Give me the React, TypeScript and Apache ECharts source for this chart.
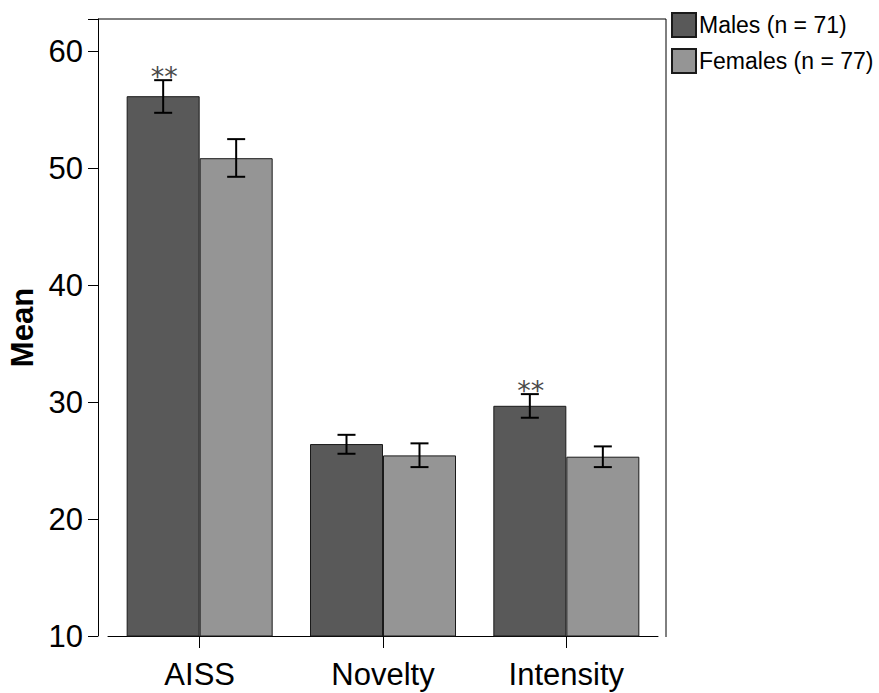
import React, { useEffect, useRef } from "react";
import * as echarts from "echarts";

// Mean scores by sex with ±error bars
const categories = ["AISS", "Novelty", "Intensity"];
const maleMean = [56.15, 26.41, 29.68];
const maleLow = [54.73, 25.58, 28.66];
const maleHigh = [57.52, 27.2, 30.68];
const femaleMean = [50.85, 25.44, 25.33];
const femaleLow = [49.26, 24.44, 24.44];
const femaleHigh = [52.48, 26.47, 26.21];
const maleMarks = ["**", "", "**"];
const femaleMarks = ["", "", ""];
const yTicks = [10, 20, 30, 40, 50, 60];

const MALE_NAME = "Males (n = 71)";
const FEMALE_NAME = "Females (n = 77)";
const BAR_W = 73;
const FONT = "'Liberation Sans', Arial, sans-serif";

function errorSeries(
  name: string,
  side: number,
  low: number[],
  high: number[],
  marks: string[]
) {
  return {
    type: "custom",
    name: name + " error",
    silent: true,
    z: 5,
    data: categories.map((_, i) => [i, low[i], high[i]]),
    renderItem: (params: any, api: any) => {
      const i = api.value(0);
      const lo = api.coord([i, api.value(1)]);
      const hi = api.coord([i, api.value(2)]);
      const x = lo[0] + (side * BAR_W) / 2;
      const cap = 9;
      const style = { stroke: "#000", lineWidth: 2 };
      const children: any[] = [
        { type: "line", shape: { x1: x, y1: hi[1], x2: x, y2: lo[1] }, style },
        { type: "line", shape: { x1: x - cap, y1: hi[1], x2: x + cap, y2: hi[1] }, style },
        { type: "line", shape: { x1: x - cap, y1: lo[1], x2: x + cap, y2: lo[1] }, style },
      ];
      const mark = marks[params.dataIndex];
      if (mark) {
        children.push({
          type: "text",
          x: x + 1,
          y: hi[1] + 10,
          style: {
            text: mark,
            fill: "#4a4a4a",
            font: "27px 'DejaVu Sans', sans-serif",
            align: "center",
            verticalAlign: "bottom",
          },
        });
      }
      return { type: "group", children };
    },
  };
}

export default function App() {
  const ref = useRef<HTMLDivElement>(null);

  useEffect(() => {
    if (!ref.current) return;
    const chart = echarts.init(ref.current, null, { renderer: "svg" });
    chart.setOption({
      animation: false,
      backgroundColor: "#fff",
      textStyle: { fontFamily: FONT },
      legend: {
        orient: "vertical",
        left: 671,
        top: 12,
        padding: 0,
        itemWidth: 24,
        itemHeight: 24,
        itemGap: 10,
        icon: "rect",
        data: [MALE_NAME, FEMALE_NAME],
        textStyle: { fontSize: 23, color: "#000", fontFamily: FONT, padding: [2, 0, 0, -2] },
      },
      grid: {
        left: 108,
        right: 221,
        top: 19,
        bottom: 57,
        containLabel: false,
        outerBoundsMode: "none",
      },
      xAxis: {
        type: "category",
        data: categories,
        axisLine: { show: true, lineStyle: { color: "#000", width: 1 } },
        axisTick: { show: true, alignWithLabel: true, length: 12, lineStyle: { color: "#000" } },
        axisLabel: { fontSize: 31, color: "#000", margin: 23, fontFamily: FONT },
      },
      yAxis: {
        type: "value",
        min: 10,
        max: 62.75,
        interval: 10,
        offset: 10,
        name: "Mean",
        nameLocation: "middle",
        nameRotate: 90,
        nameGap: 56,
        nameTextStyle: { fontSize: 31, fontWeight: "bold", color: "#000", fontFamily: FONT },
        axisLine: { show: true, lineStyle: { color: "#000", width: 1 } },
        axisTick: { show: true, length: 10, lineStyle: { color: "#000" } },
        axisLabel: {
          fontSize: 31,
          color: "#000",
          margin: 15,
          fontFamily: FONT,
          formatter: (v: number) => (yTicks.includes(v) ? String(v) : ""),
        },
        splitLine: { show: false },
      },
      graphic: [
        {
          type: "polyline",
          shape: { points: [[98, 19], [666, 19], [666, 637]] },
          style: { stroke: "#000", lineWidth: 1, fill: "none" },
          silent: true,
        },
      ],
      series: [
        {
          type: "bar",
          name: MALE_NAME,
          data: maleMean,
          barWidth: BAR_W,
          barGap: "0%",
          itemStyle: { color: "#595959", borderColor: "#1a1a1a", borderWidth: 1 },
        },
        {
          type: "bar",
          name: FEMALE_NAME,
          data: femaleMean,
          barWidth: BAR_W,
          barGap: "0%",
          itemStyle: { color: "#959595", borderColor: "#1a1a1a", borderWidth: 1 },
        },
        errorSeries(MALE_NAME, -1, maleLow, maleHigh, maleMarks),
        errorSeries(FEMALE_NAME, 1, femaleLow, femaleHigh, femaleMarks),
      ],
    });
    return () => chart.dispose();
  }, []);

  return (
    <div
      ref={ref}
      style={{ position: "absolute", left: 0, top: 0, width: 879, height: 693 }}
    />
  );
}
